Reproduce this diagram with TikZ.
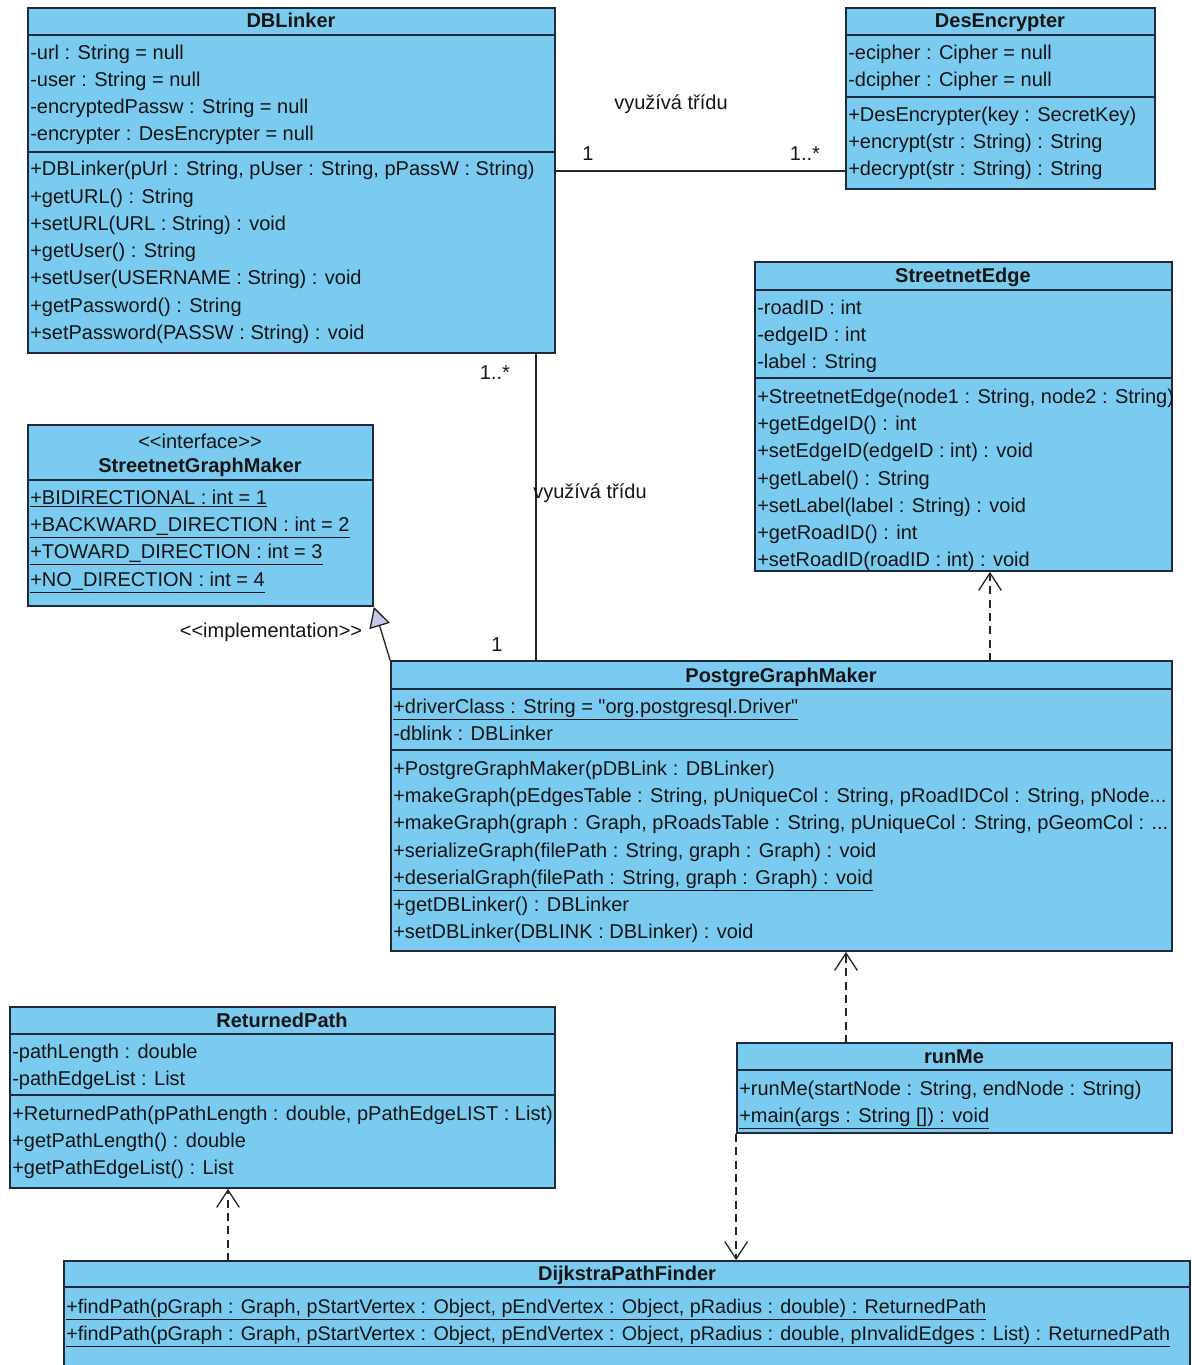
\documentclass[tikz,border=0pt]{standalone}
\usepackage{fontspec}
\setmainfont{Liberation Sans}[Ligatures=TeXOff]
\usetikzlibrary{arrows.meta,positioning,fit}
\definecolor{umlfill}{HTML}{7ACBEF}
\definecolor{umlline}{HTML}{1E2A3C}
\definecolor{umltext}{HTML}{151515}
\definecolor{implfill}{HTML}{C8C8EE}
\newcommand{\umlfont}{\fontsize{15}{18}\selectfont}

\tikzset{
  classbox/.style={draw=umlline, fill=umlfill, line width=1.3pt, inner sep=0pt},
  classline/.style={draw=umlline, line width=1.3pt},
  member/.style={anchor=west, inner sep=0pt, yshift=-1.5pt, text height=11pt, text depth=3pt, text=umltext, font=\umlfont},
  classname/.style={inner sep=0pt, yshift=-1pt, text height=11pt, text depth=3pt, text=umltext, font=\umlfont\bfseries},
  mult/.style={inner sep=0pt, yshift=-1pt, text=umltext, font=\umlfont},
  assoc/.style={draw=black!85, line width=1pt},
  depend/.style={draw=black!85, line width=1pt, dash pattern=on 6pt off 4pt,
    -{Straight Barb[length=13pt,width=17pt,line width=1pt]}},
  realize/.style={draw=black!85, line width=1pt,
    -{Triangle[fill=implfill,length=15pt,width=16pt,line width=1pt]}}
}

\begin{document}
\begin{tikzpicture}[x=0.75pt,y=0.75pt,yscale=-1,xscale=1]
\clip (0,0) rectangle (1192,1365);

% DBLinker
\node[classbox, fit={(28,8) (555,353)}] (dblinker) {};
\draw[classline] (28,35) -- (555,35);
\draw[classline] (28,152) -- (555,152);
\node[classname] (dbl-name) at (291,21) {DBLinker};
\node[member] (dbl-a1) at (30,52) {-url : String = null};
\node[member] (dbl-a2) at (30,79) {-user : String = null};
\node[member] (dbl-a3) at (30,106) {-encryptedPassw : String = null};
\node[member] (dbl-a4) at (30,133) {-encrypter : DesEncrypter = null};
\node[member] (dbl-m1) at (30,168) {+DBLinker(pUrl : String, pUser : String, pPassW : String)};
\node[member] (dbl-m2) at (30,196) {+getURL() : String};
\node[member] (dbl-m3) at (30,223) {+setURL(URL : String) : void};
\node[member] (dbl-m4) at (30,250) {+getUser() : String};
\node[member] (dbl-m5) at (30,277) {+setUser(USERNAME : String) : void};
\node[member] (dbl-m6) at (30,305) {+getPassword() : String};
\node[member] (dbl-m7) at (30,332) {+setPassword(PASSW : String) : void};

% DesEncrypter
\node[classbox, fit={(846,8) (1155,189)}] (desenc) {};
\draw[classline] (846,35) -- (1155,35);
\draw[classline] (846,97) -- (1155,97);
\node[classname] (des-name) at (1000,21) {DesEncrypter};
\node[member] (des-a1) at (848,52) {-ecipher : Cipher = null};
\node[member] (des-a2) at (848,79) {-dcipher : Cipher = null};
\node[member] (des-m1) at (848,114) {+DesEncrypter(key : SecretKey)};
\node[member] (des-m2) at (848,141) {+encrypt(str : String) : String};
\node[member] (des-m3) at (848,168) {+decrypt(str : String) : String};

% StreetnetEdge
\node[classbox, fit={(755,262) (1172,571)}] (sedge) {};
\draw[classline] (755,290) -- (1172,290);
\draw[classline] (755,378) -- (1172,378);
\node[classname] (se-name) at (963,276) {StreetnetEdge};
\node[member] (se-a1) at (757,307) {-roadID : int};
\node[member] (se-a2) at (757,334) {-edgeID : int};
\node[member] (se-a3) at (757,361) {-label : String};
\node[member] (se-m1) at (757,396) {+StreetnetEdge(node1 : String, node2 : String)};
\node[member] (se-m2) at (757,423) {+getEdgeID() : int};
\node[member] (se-m3) at (757,450) {+setEdgeID(edgeID : int) : void};
\node[member] (se-m4) at (757,478) {+getLabel() : String};
\node[member] (se-m5) at (757,505) {+setLabel(label : String) : void};
\node[member] (se-m6) at (757,532) {+getRoadID() : int};
\node[member] (se-m7) at (757,559) {+setRoadID(roadID : int) : void};

% StreetnetGraphMaker
\node[classbox, fit={(28,425) (373,606)}] (sgm) {};
\draw[classline] (28,480) -- (373,480);
\node[mult] (sgm-stereo) at (200,440) {<<interface>>};
\node[classname] (sgm-name) at (200,466) {StreetnetGraphMaker};
\node[member] (sgm-a1) at (30,497) {\underline{+BIDIRECTIONAL : int = 1}};
\node[member] (sgm-a2) at (30,524) {\underline{+BACKWARD\_DIRECTION : int = 2}};
\node[member] (sgm-a3) at (30,551) {\underline{+TOWARD\_DIRECTION : int = 3}};
\node[member] (sgm-a4) at (30,579) {\underline{+NO\_DIRECTION : int = 4}};

% PostgreGraphMaker
\node[classbox, fit={(391,661) (1172,951)}] (pgm) {};
\draw[classline] (391,689) -- (1172,689);
\draw[classline] (391,750) -- (1172,750);
\node[classname] (pgm-name) at (781,676) {PostgreGraphMaker};
\node[member] (pgm-a1) at (393,706) {\underline{+driverClass : String = "org.postgresql.Driver"}};
\node[member] (pgm-a2) at (393,733) {-dblink : DBLinker};
\node[member] (pgm-m1) at (393,768) {+PostgreGraphMaker(pDBLink : DBLinker)};
\node[member] (pgm-m2) at (393,795) {+makeGraph(pEdgesTable : String, pUniqueCol : String, pRoadIDCol : String, pNode...};
\node[member] (pgm-m3) at (393,822) {+makeGraph(graph : Graph, pRoadsTable : String, pUniqueCol : String, pGeomCol : ...};
\node[member] (pgm-m4) at (393,850) {+serializeGraph(filePath : String, graph : Graph) : void};
\node[member] (pgm-m5) at (393,877) {\underline{+deserialGraph(filePath : String, graph : Graph) : void}};
\node[member] (pgm-m6) at (393,904) {+getDBLinker() : DBLinker};
\node[member] (pgm-m7) at (393,931) {+setDBLinker(DBLINK : DBLinker) : void};

% runMe
\node[classbox, fit={(737,1043) (1172,1133)}] (runme) {};
\draw[classline] (737,1070) -- (1172,1070);
\node[classname] (run-name) at (954,1057) {runMe};
\node[member] (run-m1) at (739,1088) {+runMe(startNode : String, endNode : String)};
\node[member] (run-m2) at (739,1115) {\underline{+main(args : String []) : void}};

% ReturnedPath
\node[classbox, fit={(10,1007) (555,1188)}] (retpath) {};
\draw[classline] (10,1034) -- (555,1034);
\draw[classline] (10,1095) -- (555,1095);
\node[classname] (rp-name) at (282,1021) {ReturnedPath};
\node[member] (rp-a1) at (12,1051) {-pathLength : double};
\node[member] (rp-a2) at (12,1078) {-pathEdgeList : List};
\node[member] (rp-m1) at (12,1113) {+ReturnedPath(pPathLength : double, pPathEdgeLIST : List)};
\node[member] (rp-m2) at (12,1140) {+getPathLength() : double};
\node[member] (rp-m3) at (12,1167) {+getPathEdgeList() : List};

% DijkstraPathFinder
\node[classbox, fit={(64,1261) (1190,1380)}] (dpf) {};
\draw[classline] (64,1287) -- (1190,1287);
\node[classname] (dpf-name) at (627,1274) {DijkstraPathFinder};
\node[member, font=\fontsize{14.8}{18}\selectfont] (dpf-m1) at (66,1306) {\underline{+findPath(pGraph : Graph, pStartVertex : Object, pEndVertex : Object, pRadius : double) : ReturnedPath}};
\node[member, font=\fontsize{14.8}{18}\selectfont] (dpf-m2) at (66,1333) {\underline{+findPath(pGraph : Graph, pStartVertex : Object, pEndVertex : Object, pRadius : double, pInvalidEdges : List) : ReturnedPath}};

% connectors
\coordinate (dbl-right) at (555,171);
\draw[assoc] (dbl-right) -- (dbl-right -| desenc.west);
\node[mult] (enc-use) at (671,103) {využívá třídu};
\node[mult] (enc-m1) at (588,152) {1};
\node[mult] (enc-m2) at (805,152) {1..*};

\coordinate (dbl-down) at (536,353);
\draw[assoc] (dbl-down) -- (dbl-down |- pgm.north);
\node[mult] (pgm-use) at (590,492) {využívá třídu};
\node[mult] (pgm-mu1) at (495,371) {1..*};
\node[mult] (pgm-mu2) at (497,643) {1};

\draw[realize] (pgm.north west) -- (sgm.south east);
\node[mult] (impl) at (271,631) {<<implementation>>};

\coordinate (pgm-up) at (990,661);
\draw[depend] (pgm-up) -- (pgm-up |- sedge.south);

\coordinate (run-up) at (846,1043);
\draw[depend] (run-up) -- (run-up |- pgm.south);

\draw[depend] (runme.south west) -- (runme.south west |- dpf.north);

\coordinate (dpf-up) at (228,1261);
\draw[depend] (dpf-up) -- (dpf-up |- retpath.south);

\end{tikzpicture}
\end{document}
